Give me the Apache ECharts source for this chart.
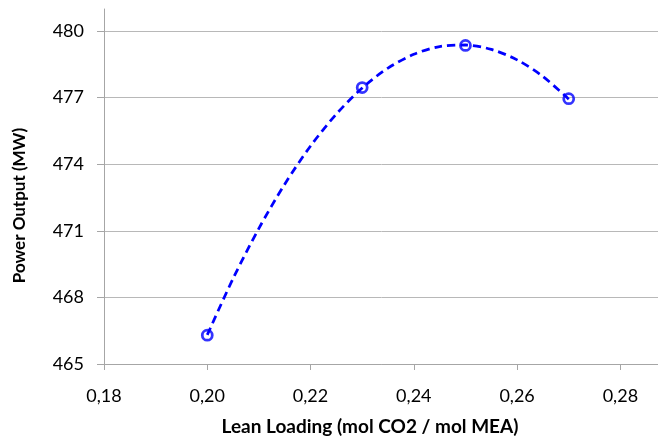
<!DOCTYPE html>
<html>
<head>
<meta charset="utf-8">
<script src="https://cdn.jsdelivr.net/npm/echarts@6/dist/echarts.min.js"></script>
<style>
html,body{margin:0;padding:0;background:#fff;}
#chart{width:658px;height:443px;}
</style>
</head>
<body>
<div id="chart"></div>
<script>
// Measured points
const leanLoading = [0.20, 0.23, 0.25, 0.27];
const powerOutput = [466.3, 477.45, 479.35, 476.95];
// Trendline (dashed curve)
const trendX = [0.200, 0.205, 0.210, 0.215, 0.220, 0.225, 0.230, 0.235, 0.240, 0.245, 0.250, 0.255, 0.260, 0.265, 0.270];
const trendY = [466.31, 468.85, 471.11, 473.10, 474.82, 476.26, 477.43, 478.33, 478.95, 479.30, 479.37, 479.17, 478.70, 477.95, 476.93];
// Axis settings
const xAxisTitle = 'Lean Loading (mol CO2 / mol MEA)';
const yAxisTitle = 'Power Output (MW)';

const FONT = 'Lato';
const chart = echarts.init(document.getElementById('chart'), null, {renderer: 'canvas'});

const pts = leanLoading.map((x, i) => [x, powerOutput[i]]);
const trend = trendX.map((x, i) => [x, trendY[i]]);

chart.setOption({
  animation: false,
  backgroundColor: '#ffffff',
  grid: [
    {left: 104, top: 31, width: 568, height: 333, containLabel: false, outerBoundsMode: 'none'},
    {left: 104, top: 9, width: 568, height: 355, containLabel: false, outerBoundsMode: 'none'}
  ],
  xAxis: [{
    type: 'value', gridIndex: 0,
    min: 0.18, max: 0.29, interval: 0.02,
    name: xAxisTitle, nameLocation: 'middle', nameGap: 53,
    nameTextStyle: {fontFamily: FONT, fontWeight: 'bold', fontSize: 19, color: '#000', padding: [0, 36, 0, 0]},
    axisLine: {show: true, lineStyle: {color: '#A6A6A6', width: 1}},
    axisTick: {show: true, length: 6, inside: false, lineStyle: {color: '#A6A6A6'}},
    axisLabel: {margin: 23, fontFamily: FONT, fontSize: 18, color: '#000', showMaxLabel: false,
      formatter: v => v > 0.285 ? '' : v.toFixed(2).replace('.', ',')},
    splitLine: {show: false}
  }, {
    type: 'value', gridIndex: 1, show: false, min: 0.18, max: 0.29
  }],
  yAxis: [{
    type: 'value', gridIndex: 0,
    min: 465, max: 480, interval: 3,
    name: yAxisTitle, nameLocation: 'middle', nameGap: 76, nameRotate: 90,
    nameTextStyle: {fontFamily: FONT, fontWeight: 'bold', fontSize: 17, color: '#000', padding: [0, 16, 0, 0]},
    axisLine: {show: false},
    axisTick: {show: true, length: 7, lineStyle: {color: '#A6A6A6'}},
    axisLabel: {margin: 20, fontFamily: FONT, fontSize: 18, color: '#000'},
    splitLine: {show: true, lineStyle: {color: '#B8B8B8', width: 1}}
  }, {
    type: 'value', gridIndex: 1, min: 465, max: 481,
    axisLine: {show: true, lineStyle: {color: '#A6A6A6', width: 1}},
    axisTick: {show: false}, axisLabel: {show: false}, splitLine: {show: false}
  }],
  series: [{
    type: 'scatter', xAxisIndex: 0, yAxisIndex: 0,
    data: pts, symbol: 'circle', symbolSize: 10,
    itemStyle: {color: 'rgba(0,0,0,0)', borderColor: '#0000FF', borderWidth: 2.75},
    z: 3
  }, {
    type: 'line', xAxisIndex: 0, yAxisIndex: 0,
    data: trend, smooth: 0.3, showSymbol: false,
    lineStyle: {color: '#0000FF', width: 2.75, type: [8, 5]},
    z: 4
  }]
});
</script>
</body>
</html>
